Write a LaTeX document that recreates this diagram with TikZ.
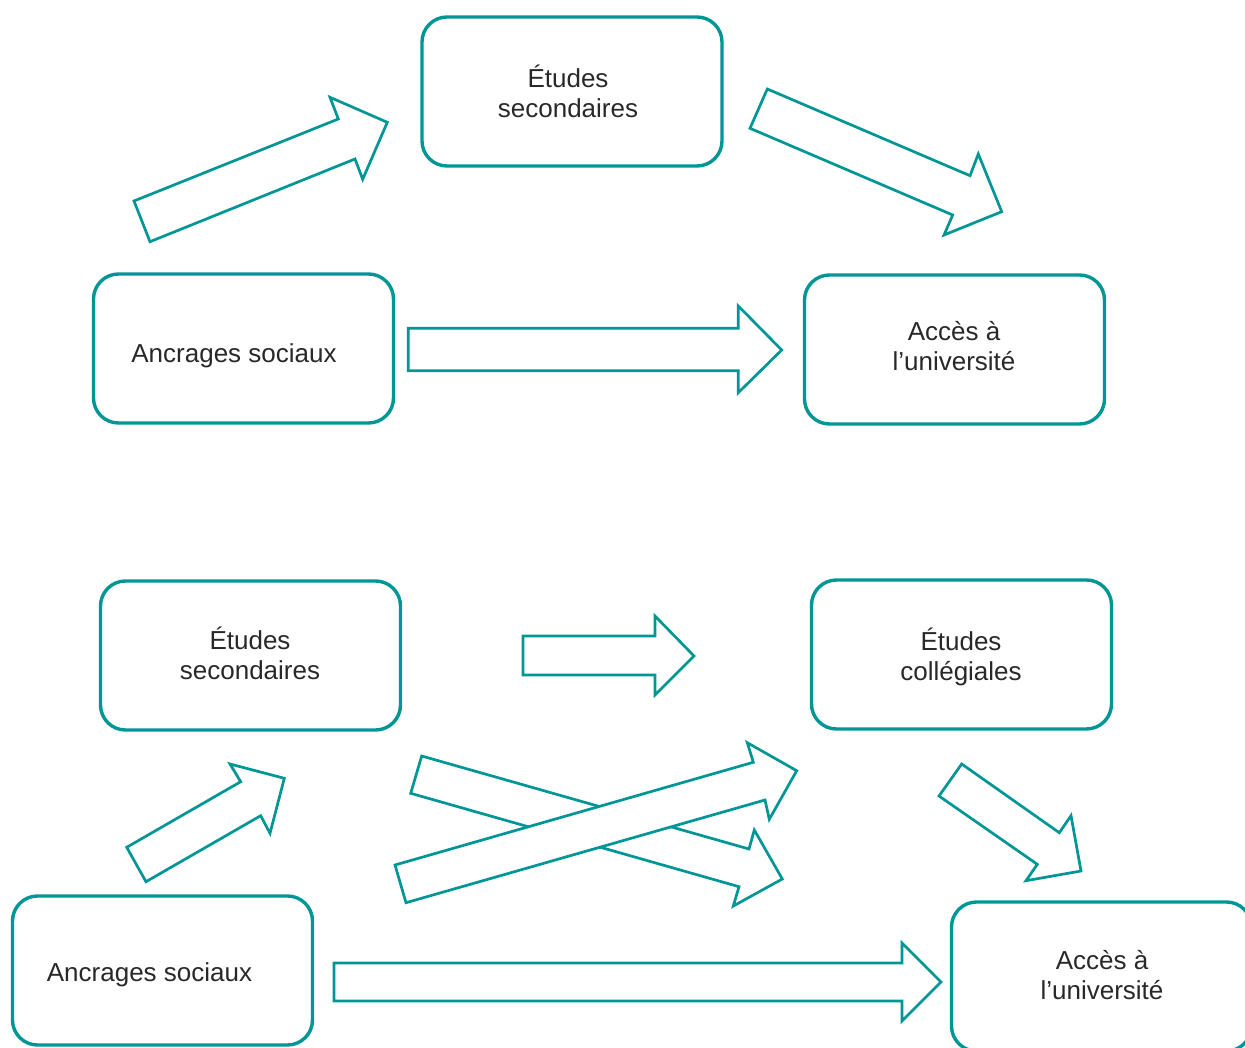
\documentclass[tikz,border=0pt]{standalone}
\usepackage{fontspec}
\setmainfont{Liberation Sans}
\definecolor{boxteal}{RGB}{0,150,150}
\definecolor{txtgray}{RGB}{40,40,40}
\begin{document}
\begin{tikzpicture}[x=1pt,y=-1pt,
  box/.style={draw=boxteal, line width=3.4pt, rounded corners=25pt,
    minimum width=300pt, minimum height=149pt, inner sep=0pt},
  lbl/.style={align=center, font=\fontsize{26}{30}\selectfont, text=txtgray, inner sep=0pt},
  blockarrow/.style={draw=boxteal, line width=2.7pt, fill=white, line join=miter}]
\useasboundingbox (0,0) rectangle (1245,1048);
\clip (0,0) rectangle (1245,1048);

% ---------- top diagram ----------
\node[box] (es1)  at (572,91.5)    {};
\node[box] (anc1) at (243.5,348.5) {};
\node[box] (acc1) at (954.5,349.5) {};
\node[lbl] (es1t)  at (568,91)     {Études\\secondaires};
\node[lbl] (anc1t) at (234,355.5)  {Ancrages sociaux};
\node[lbl] (acc1t) at (954,346.5)  {Accès à\\l’université};

% horizontal arrow anc1 -> acc1
\draw[blockarrow] (408.3,328.3) -- (738.3,328.3) -- (738.3,306) -- (781.7,350)
  -- (738.3,392.7) -- (738.3,370.7) -- (408.3,370.7) -- cycle;
% anc1 -> es1
\draw[blockarrow] (134,201) -- (338.3,119) -- (330,97.3) -- (387.3,122.3)
  -- (362.7,179.3) -- (355,159) -- (150,241.7) -- cycle;
% es1 -> acc1
\draw[blockarrow] (767.3,89) -- (970,175.7) -- (978.3,154) -- (1001.7,211.7)
  -- (944,235) -- (952.7,215) -- (750,128.3) -- cycle;

% ---------- bottom diagram ----------
\node[box] (es2)  at (250.5,655.5)  {};
\node[box] (ec)   at (961.5,654.5)  {};
\node[box] (anc2) at (162.5,970.5)  {};
\node[box] (acc2) at (1101.5,976.5) {};
\node[lbl] (es2t)  at (250,653.5)   {Études\\secondaires};
\node[lbl] (ect)   at (961,657)     {Études\\collégiales};
\node[lbl] (anc2t) at (149.5,974.5) {Ancrages sociaux};
\node[lbl] (acc2t) at (1102,975.5)  {Accès à\\l’université};

% es2 -> ec
\draw[blockarrow] (523,636) -- (655,636) -- (655,616) -- (694,656)
  -- (655,695) -- (655,675) -- (523,675) -- cycle;
% anc2 -> acc2
\draw[blockarrow] (334,963) -- (902,963) -- (902,943) -- (941,982)
  -- (902,1021) -- (902,1001) -- (334,1001) -- cycle;
% anc2 -> es2
\draw[blockarrow] (126.7,847.3) -- (240.7,781.7) -- (230,764) -- (284.3,778.3)
  -- (270,833.3) -- (260.7,815.7) -- (146,881.7) -- cycle;
% ec -> acc2
\draw[blockarrow] (961.7,764) -- (1059.3,832.7) -- (1071,815.7) -- (1081,871)
  -- (1026,880.7) -- (1037.3,864.3) -- (939,796) -- cycle;
% es2 -> acc2 (down-right, crossing)
\draw[blockarrow] (421.7,756) -- (749,849) -- (754.3,830) -- (782.3,879)
  -- (733.3,906) -- (739,886.7) -- (410.7,793.3) -- cycle;
% anc2 -> ec (up-right, on top)
\draw[blockarrow] (395,865) -- (753.3,762.3) -- (747.3,742.7) -- (796.7,770.7)
  -- (769.3,819.3) -- (765,800) -- (406,902.7) -- cycle;
\end{tikzpicture}
\end{document}
